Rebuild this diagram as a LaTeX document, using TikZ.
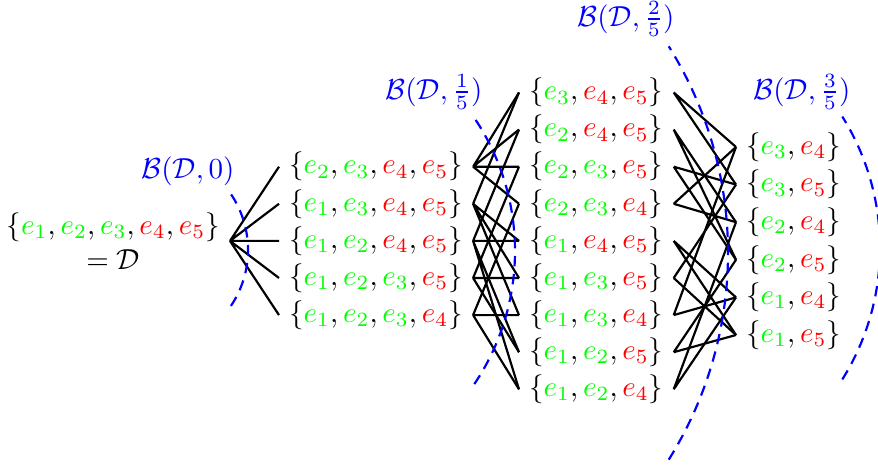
\documentclass[tikz,border=0pt]{standalone}
\usepackage{amsmath,amssymb}
\usepackage{xcolor}
\usepackage{tikz}
\newcommand{\eG}[1]{\textcolor{green}{e_{#1}}}
\newcommand{\eR}[1]{\textcolor{red}{e_{#1}}}
\newcommand{\ballname}[1]{\textcolor{blue}{$\mathcal{B}(\mathcal{D},#1)$}}

\begin{document}
\begin{tikzpicture}[x=0.345pt, y=-0.345pt,
  family/.style={anchor=west, inner sep=3.33pt},
  link/.style={draw, line width=0.75pt},
  ball/.style={draw=blue, line width=0.75pt, dash pattern=on 3.6pt off 2.6pt}]
\useasboundingbox (0,0) rectangle (878,469);
% ---- the whole set D -----------------------------------------------------------------------------
\node[align=center, anchor=east, inner sep=3.33pt] (D) at (230,240.9) {$\{\eG{1},\eG{2},\eG{3},\eR{4},\eR{5}\}$\\ $=\mathcal{D}$};
% ---- level 1: four elements left ------------------------------------------------------------------
\node[family] (s2345) at (279,166.7) {$\{\eG{2},\eG{3},\eR{4},\eR{5}\}$};
\node[family] (s1345) at (279,203.8) {$\{\eG{1},\eG{3},\eR{4},\eR{5}\}$};
\node[family] (s1245) at (279,240.9) {$\{\eG{1},\eG{2},\eR{4},\eR{5}\}$};
\node[family] (s1235) at (279,278.0) {$\{\eG{1},\eG{2},\eG{3},\eR{5}\}$};
\node[family] (s1234) at (279,315.1) {$\{\eG{1},\eG{2},\eG{3},\eR{4}\}$};
% ---- level 2: three elements left, at least one red ------------------------------------------------
\node[family] (s345) at (519,92.5)  {$\{\eG{3},\eR{4},\eR{5}\}$};
\node[family] (s245) at (519,129.6) {$\{\eG{2},\eR{4},\eR{5}\}$};
\node[family] (s235) at (519,166.7) {$\{\eG{2},\eG{3},\eR{5}\}$};
\node[family] (s234) at (519,203.8) {$\{\eG{2},\eG{3},\eR{4}\}$};
\node[family] (s145) at (519,240.9) {$\{\eG{1},\eR{4},\eR{5}\}$};
\node[family] (s135) at (519,278.0) {$\{\eG{1},\eG{3},\eR{5}\}$};
\node[family] (s134) at (519,315.1) {$\{\eG{1},\eG{3},\eR{4}\}$};
\node[family] (s125) at (519,352.2) {$\{\eG{1},\eG{2},\eR{5}\}$};
\node[family] (s124) at (519,389.3) {$\{\eG{1},\eG{2},\eR{4}\}$};
% ---- level 3: one green, one red ---------------------------------------------------------------------
\node[family] (s34) at (736,147.0) {$\{\eG{3},\eR{4}\}$};
\node[family] (s35) at (736,184.6) {$\{\eG{3},\eR{5}\}$};
\node[family] (s24) at (736,222.2) {$\{\eG{2},\eR{4}\}$};
\node[family] (s25) at (736,259.8) {$\{\eG{2},\eR{5}\}$};
\node[family] (s14) at (736,297.4) {$\{\eG{1},\eR{4}\}$};
\node[family] (s15) at (736,335.0) {$\{\eG{1},\eR{5}\}$};
% ---- links: each set to its subsets one level down ---------------------------------------------------
\draw[link] (D.east) -- (s2345.west) (D.east) -- (s1345.west) (D.east) -- (s1245.west)
  (D.east) -- (s1235.west) (D.east) -- (s1234.west);
\draw[link] (s2345.east) -- (s345.west) (s2345.east) -- (s245.west) (s2345.east) -- (s235.west) (s2345.east) -- (s234.west);
\draw[link] (s1345.east) -- (s345.west) (s1345.east) -- (s145.west) (s1345.east) -- (s135.west) (s1345.east) -- (s134.west);
\draw[link] (s1245.east) -- (s245.west) (s1245.east) -- (s145.west) (s1245.east) -- (s125.west) (s1245.east) -- (s124.west);
\draw[link] (s1235.east) -- (s235.west) (s1235.east) -- (s135.west) (s1235.east) -- (s125.west);
\draw[link] (s1234.east) -- (s234.west) (s1234.east) -- (s134.west) (s1234.east) -- (s124.west);
\draw[link] (s345.east) -- (s34.west) (s345.east) -- (s35.west);
\draw[link] (s245.east) -- (s24.west) (s245.east) -- (s25.west);
\draw[link] (s235.east) -- (s35.west) (s235.east) -- (s25.west);
\draw[link] (s234.east) -- (s34.west) (s234.east) -- (s24.west);
\draw[link] (s145.east) -- (s14.west) (s145.east) -- (s15.west);
\draw[link] (s135.east) -- (s35.west) (s135.east) -- (s15.west);
\draw[link] (s134.east) -- (s34.west) (s134.east) -- (s14.west);
\draw[link] (s125.east) -- (s25.west) (s125.east) -- (s15.west);
\draw[link] (s124.east) -- (s24.west) (s124.east) -- (s14.west);
% ---- the balls round D --------------------------------------------------------------------------------
\draw[ball] (148,250) ++(34:100) arc (34:-34:100);
\draw[ball] (277,251) ++(34:238) arc (34:-34:238);
\draw[ball] (338,253) ++(32:390) arc (32:-32:390);
\draw[ball] (632,248) ++(32:248) arc (32:-32:248);
\node (b0) at (188,171) {\ballname{0}};
\node (b1) at (434,92)  {\ballname{\frac{1}{5}}};
\node (b2) at (626,19)  {\ballname{\frac{2}{5}}};
\node (b3) at (802,92)  {\ballname{\frac{3}{5}}};
\end{tikzpicture}
\end{document}
